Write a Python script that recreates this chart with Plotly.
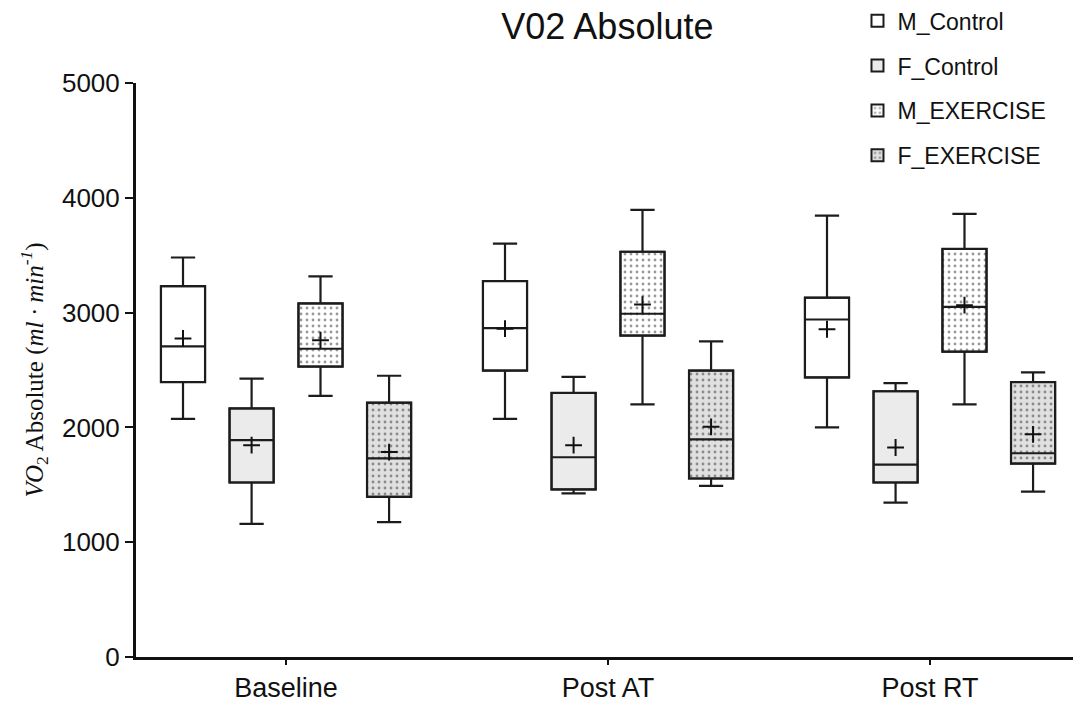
import plotly.graph_objects as go

# Time points on the x axis
categories = ["Baseline", "Post AT", "Post RT"]

# Box statistics (ml/min) per group, one value per time point
m_control_max = [3480, 3600, 3845]
m_control_q3 = [3230, 3275, 3130]
m_control_median = [2705, 2865, 2940]
m_control_q1 = [2395, 2495, 2435]
m_control_min = [2075, 2075, 2000]
m_control_mean = [2775, 2860, 2855]

f_control_max = [2425, 2440, 2385]
f_control_q3 = [2165, 2300, 2315]
f_control_median = [1890, 1740, 1675]
f_control_q1 = [1520, 1460, 1520]
f_control_min = [1160, 1425, 1345]
f_control_mean = [1845, 1845, 1825]

m_exercise_max = [3315, 3895, 3860]
m_exercise_q3 = [3080, 3530, 3555]
m_exercise_median = [2685, 2990, 3050]
m_exercise_q1 = [2530, 2800, 2660]
m_exercise_min = [2275, 2200, 2200]
m_exercise_mean = [2760, 3070, 3065]

f_exercise_max = [2450, 2750, 2480]
f_exercise_q3 = [2215, 2495, 2395]
f_exercise_median = [1730, 1895, 1775]
f_exercise_q1 = [1395, 1555, 1685]
f_exercise_min = [1175, 1490, 1440]
f_exercise_mean = [1785, 2005, 1940]

groups = [
    ("M_Control", m_control_min, m_control_q1, m_control_median, m_control_q3, m_control_max, m_control_mean),
    ("F_Control", f_control_min, f_control_q1, f_control_median, f_control_q3, f_control_max, f_control_mean),
    ("M_EXERCISE", m_exercise_min, m_exercise_q1, m_exercise_median, m_exercise_q3, m_exercise_max, m_exercise_mean),
    ("F_EXERCISE", f_exercise_min, f_exercise_q1, f_exercise_median, f_exercise_q3, f_exercise_max, f_exercise_mean),
]

# Styling per group
fills = ["#ffffff", "#ebebeb", "#ffffff", "#e0e0e0"]
patterns = ["", "", ".", "."]
offsets = [-0.32, -0.107, 0.107, 0.32]
box_width = 0.137
edge = "#1c1c1c"

fig = go.Figure()

for k, (name, lo, q1, med, q3, hi, mean) in enumerate(groups):
    xs = [i + offsets[k] for i in range(len(categories))]
    # Filled / dotted box body (also provides the legend swatch)
    fig.add_trace(go.Bar(
        x=xs, y=[b - a for a, b in zip(q1, q3)], base=q1, width=box_width,
        name=name, legendgroup=name,
        marker=dict(color=fills[k], line=dict(color=edge, width=2),
                    pattern=dict(shape=patterns[k], fgcolor="#333333",
                                 size=6, solidity=0.18)),
        hoverinfo="skip",
    ))
    # Whiskers, box outline and median line
    fig.add_trace(go.Box(
        x=xs, q1=q1, median=med, q3=q3, lowerfence=lo, upperfence=hi,
        width=box_width, whiskerwidth=0.55, boxpoints=False,
        fillcolor="rgba(0,0,0,0)", line=dict(color=edge, width=2.2),
        showlegend=False, legendgroup=name, hoverinfo="skip",
    ))
    # Mean marker
    fig.add_trace(go.Scatter(
        x=xs, y=mean, mode="markers", showlegend=False, legendgroup=name,
        marker=dict(symbol="cross-thin", size=12, line=dict(color="#111111", width=2)),
        hoverinfo="skip",
    ))

fig.update_layout(
    width=1075, height=703,
    margin=dict(l=136, r=2, t=83, b=46, autoexpand=False),
    paper_bgcolor="white", plot_bgcolor="white",
    font=dict(family="Liberation Sans, Arial, sans-serif", color="#111111"),
    barmode="overlay",
    title=dict(text="V02 Absolute", x=0.565, xanchor="center", y=0.962, yanchor="middle",
               font=dict(size=36, color="#111111")),
    showlegend=True,
    legend=dict(x=0.77, xanchor="left", y=1.146, yanchor="top",
                font=dict(size=23, color="#111111"), tracegroupgap=12,
                bgcolor="rgba(0,0,0,0)"),
    xaxis=dict(range=[-0.466, 2.444], tickvals=list(range(len(categories))),
               ticktext=categories, showgrid=False, zeroline=False,
               showline=True, linecolor="#111111", linewidth=3,
               ticks="outside", ticklen=5, tickwidth=2, tickcolor="#111111",
               tickfont=dict(size=27, color="#111111")),
    yaxis=dict(range=[0, 5000], tickvals=[0, 1000, 2000, 3000, 4000, 5000],
               showgrid=False, zeroline=False,
               showline=True, linecolor="#111111", linewidth=3,
               ticks="outside", ticklen=8, tickwidth=2, tickcolor="#111111",
               tickfont=dict(size=26, color="#111111"),
               title=dict(text="<i>VO</i><sub>2</sub> Absolute (<i>ml · min</i><sup><i>-1</i></sup>)",
                          font=dict(family="Liberation Serif, Times New Roman, serif", size=25,
                                    color="#111111"),
                          standoff=12)),
)

fig.write_html("out.html")
